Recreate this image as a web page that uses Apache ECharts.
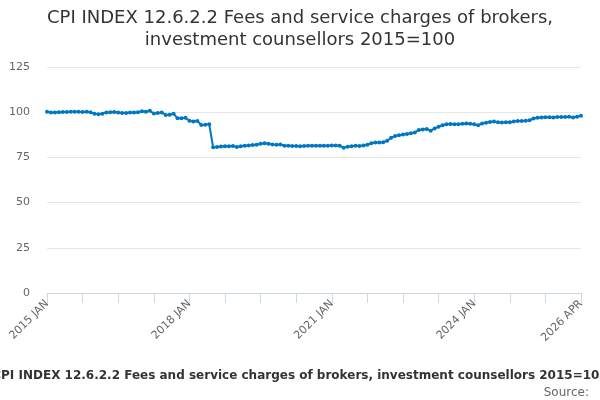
<!DOCTYPE html>
<html>
<head>
<meta charset="utf-8">
<script src="https://cdn.jsdelivr.net/npm/echarts@6/dist/echarts.min.js"></script>
<style>
html, body { margin: 0; padding: 0; background: #fff; }
#chart { width: 600px; height: 400px; }
</style>
</head>
<body>
<div id="chart"></div>
<script>
var months = ['JAN', 'FEB', 'MAR', 'APR', 'MAY', 'JUN', 'JUL', 'AUG', 'SEP', 'OCT', 'NOV', 'DEC'];
var years = [2015, 2016, 2017, 2018, 2019, 2020, 2021, 2022, 2023, 2024, 2025, 2026];
var lastMonth = 4;

var values2015 = [100.3, 99.8, 99.9, 100.0, 100.1, 100.1, 100.2, 100.2, 100.2, 100.1, 100.2, 100.0];
var values2016 = [99.2, 98.9, 99.2, 99.9, 100.0, 100.1, 99.8, 99.5, 99.6, 99.8, 99.9, 100.0];
var values2017 = [100.5, 100.2, 100.8, 99.3, 99.6, 99.9, 98.5, 98.6, 99.2, 96.6, 96.6, 96.9];
var values2018 = [95.3, 94.8, 95.2, 92.9, 93.1, 93.4, 80.6, 80.7, 81.0, 81.1, 81.2, 81.3];
var values2019 = [80.7, 81.2, 81.4, 81.6, 81.8, 82.0, 82.5, 82.8, 82.6, 82.1, 82.0, 82.1];
var values2020 = [81.5, 81.4, 81.3, 81.3, 81.2, 81.3, 81.4, 81.5, 81.4, 81.5, 81.5, 81.4];
var values2021 = [81.6, 81.6, 81.5, 80.4, 80.9, 81.2, 81.4, 81.3, 81.6, 82.0, 82.8, 83.2];
var values2022 = [83.2, 83.4, 84.2, 85.8, 86.8, 87.2, 87.6, 88.0, 88.3, 88.8, 90.2, 90.5];
var values2023 = [90.7, 89.8, 91.0, 92.0, 92.8, 93.3, 93.5, 93.4, 93.4, 93.6, 93.7, 93.6];
var values2024 = [93.4, 92.8, 93.8, 94.2, 94.6, 94.8, 94.5, 94.3, 94.4, 94.5, 94.9, 95.1];
var values2025 = [95.2, 95.3, 95.5, 96.5, 96.9, 97.1, 97.2, 97.2, 97.1, 97.3, 97.4, 97.3];
var values2026 = [97.5, 97.1, 97.5, 98.0];

var yTicks = [0, 25, 50, 75, 100, 125];

var titleText = 'CPI INDEX 12.6.2.2 Fees and service charges of brokers,\ninvestment counsellors 2015=100';
var footText = 'CPI INDEX 12.6.2.2 Fees and service charges of brokers, investment counsellors 2015=100';

// build category list and series from the arrays above
var categories = [];
years.forEach(function (y, yi) {
    var n = (yi === years.length - 1) ? lastMonth : 12;
    for (var m = 0; m < n; m++) {
        categories.push(y + ' ' + months[m]);
    }
});
var values = [].concat(values2015, values2016, values2017, values2018, values2019, values2020,
    values2021, values2022, values2023, values2024, values2025, values2026);
var lastIndex = categories.length - 1;

var font = 'DejaVu Sans';
var myChart = echarts.init(document.getElementById('chart'));
var option = {
    animation: false,
    title: {
        text: titleText,
        left: 'center',
        top: 2,
        textStyle: {
            fontFamily: font,
            fontSize: 18,
            fontWeight: 'normal',
            color: '#333333',
            lineHeight: 22
        }
    },
    grid: {
        left: 47,
        right: 19,
        top: 67,
        bottom: 107
    },
    xAxis: {
        type: 'category',
        boundaryGap: false,
        data: categories,
        axisLine: { lineStyle: { color: '#ccd6eb' } },
        axisTick: {
            length: 10,
            lineStyle: { color: '#ccd6eb' },
            interval: function (index) { return index % 9 === 0; }
        },
        axisLabel: {
            rotate: 45,
            fontFamily: font,
            fontSize: 11,
            color: '#666666',
            margin: 9,
            interval: function (index) { return index % 36 === 0 || index === lastIndex; }
        }
    },
    yAxis: {
        type: 'value',
        min: yTicks[0],
        max: yTicks[yTicks.length - 1],
        interval: 25,
        axisLine: { show: false },
        axisTick: { show: false },
        splitLine: { lineStyle: { color: '#e6e6e6' } },
        axisLabel: {
            fontFamily: font,
            fontSize: 11,
            color: '#666666',
            margin: 17
        }
    },
    series: [{
        type: 'line',
        data: values,
        symbol: 'circle',
        symbolSize: 4,
        showAllSymbol: true,
        lineStyle: { color: '#0077c0', width: 2 },
        itemStyle: { color: '#0077c0' }
    }],
    graphic: [
        {
            type: 'text',
            left: 'center',
            top: 370,
            style: {
                text: footText,
                fontFamily: font,
                fontSize: 12,
                fontWeight: 'bold',
                fill: '#333333'
            }
        },
        {
            type: 'text',
            right: 11,
            top: 387,
            style: {
                text: 'Source:',
                fontFamily: font,
                fontSize: 12,
                fill: '#666666'
            }
        }
    ]
};
myChart.setOption(option);
</script>
</body>
</html>
